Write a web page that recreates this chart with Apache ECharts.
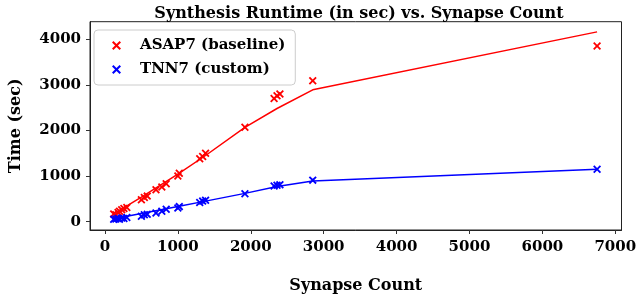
<!DOCTYPE html>
<html><head><meta charset="utf-8">
<script src="https://cdn.jsdelivr.net/npm/echarts@6/dist/echarts.min.js"></script>
<style>html,body{margin:0;padding:0;background:#fff}#c{width:640px;height:299px}</style>
</head><body><div id="c"></div>
<script>
// Synapse counts of the designs
const synapseCounts = [120, 150, 180, 200, 230, 260, 300, 500, 540, 580, 700, 780, 840, 1000, 1020, 1300, 1340, 1380, 1920, 2320, 2360, 2400, 2850, 6750];
// Measured runtimes (sec)
const asap7Runtime = [170, 150, 200, 230, 260, 290, 310, 480, 530, 560, 700, 760, 830, 1000, 1060, 1380, 1430, 1500, 2070, 2700, 2760, 2800, 3090, 3850];
const tnn7Runtime  = [50, 60, 70, 55, 80, 70, 90, 120, 150, 160, 190, 230, 270, 300, 330, 420, 450, 470, 610, 780, 800, 810, 910, 1150];
// Fitted trend lines
const fitCounts = [120, 500, 1000, 1380, 1920, 2360, 2850, 6750];
const asap7Fit = [170, 540, 1040, 1450, 2065, 2480, 2890, 4160];
const tnn7Fit  = [65, 180, 330, 450, 620, 770, 890, 1150];
const xTicks = [0, 1000, 2000, 3000, 4000, 5000, 6000, 7000];
const yTicks = [0, 1000, 2000, 3000, 4000];
const seriesNames = ['ASAP7 (baseline)', 'TNN7 (custom)'];

const FONT = 'DejaVu Serif';
const XPATH = 'path://M0,1.6L1.6,0L5,3.4L8.4,0L10,1.6L6.6,5L10,8.4L8.4,10L5,6.6L1.6,10L0,8.4L3.4,5Z';
const pairs = (xs, ys) => xs.map((x, i) => [x, ys[i]]);

const chart = echarts.init(document.getElementById('c'), null, {renderer: 'canvas'});
chart.setOption({
  animation: false,
  title: {
    text: 'Synthesis Runtime (in sec) vs. Synapse Count',
    left: 354, top: 1, textAlign: 'center',
    textStyle: {fontFamily: FONT, fontWeight: 'bold', fontSize: 16, color: '#000'}
  },
  grid: {left: 85, right: 18.5, top: 21.7, bottom: 67.3, show: true, borderColor: '#222', borderWidth: 1},
  legend: {
    orient: 'vertical', left: 94, top: 30,
    data: seriesNames,
    itemWidth: 9, itemHeight: 9, itemGap: 9,
    padding: [8, 10, 8, 18],
    borderColor: '#ccc', borderWidth: 1, borderRadius: 4,
    backgroundColor: 'rgba(255,255,255,0.8)',
    textStyle: {fontFamily: FONT, fontWeight: 'bold', fontSize: 15, color: '#000', padding: [0, 0, 0, 14]}
  },
  xAxis: {
    type: 'value', min: -205, max: 7085,
    name: 'Synapse Count', nameLocation: 'middle', nameGap: 48,
    nameTextStyle: {fontFamily: FONT, fontWeight: 'bold', fontSize: 16, color: '#000'},
    splitLine: {show: false},
    axisLine: {show: true, onZero: false, lineStyle: {color: '#222', width: 1}},
    axisTick: {show: true, inside: false, length: 4, lineStyle: {color: '#333'}, customValues: xTicks},
    axisLabel: {customValues: xTicks, formatter: v => String(v), margin: 10, fontFamily: FONT, fontWeight: 'bold', fontSize: 15, color: '#000'}
  },
  yAxis: {
    type: 'value', min: -183, max: 4383,
    name: 'Time (sec)', nameLocation: 'middle', nameGap: 66, nameRotate: 90,
    nameTextStyle: {fontFamily: FONT, fontWeight: 'bold', fontSize: 16, color: '#000'},
    splitLine: {show: false},
    axisLine: {show: true, onZero: false, lineStyle: {color: '#222', width: 1}},
    axisTick: {show: true, inside: false, length: 4, lineStyle: {color: '#333'}, customValues: yTicks},
    axisLabel: {customValues: yTicks, formatter: v => String(v), margin: 9, fontFamily: FONT, fontWeight: 'bold', fontSize: 15, color: '#000'}
  },
  series: [
    {type: 'line', data: pairs(fitCounts, asap7Fit), showSymbol: false, symbol: 'none', lineStyle: {color: '#ff0000', width: 1.5}, z: 2, silent: true},
    {type: 'line', data: pairs(fitCounts, tnn7Fit), showSymbol: false, symbol: 'none', lineStyle: {color: '#0000ff', width: 1.5}, z: 2, silent: true},
    {name: seriesNames[0], type: 'scatter', data: pairs(synapseCounts, asap7Runtime), symbol: XPATH, symbolSize: 8, itemStyle: {color: '#ff0000', opacity: 1}, z: 3},
    {name: seriesNames[1], type: 'scatter', data: pairs(synapseCounts, tnn7Runtime), symbol: XPATH, symbolSize: 8, itemStyle: {color: '#0000ff', opacity: 1}, z: 3}
  ]
});
</script></body></html>
